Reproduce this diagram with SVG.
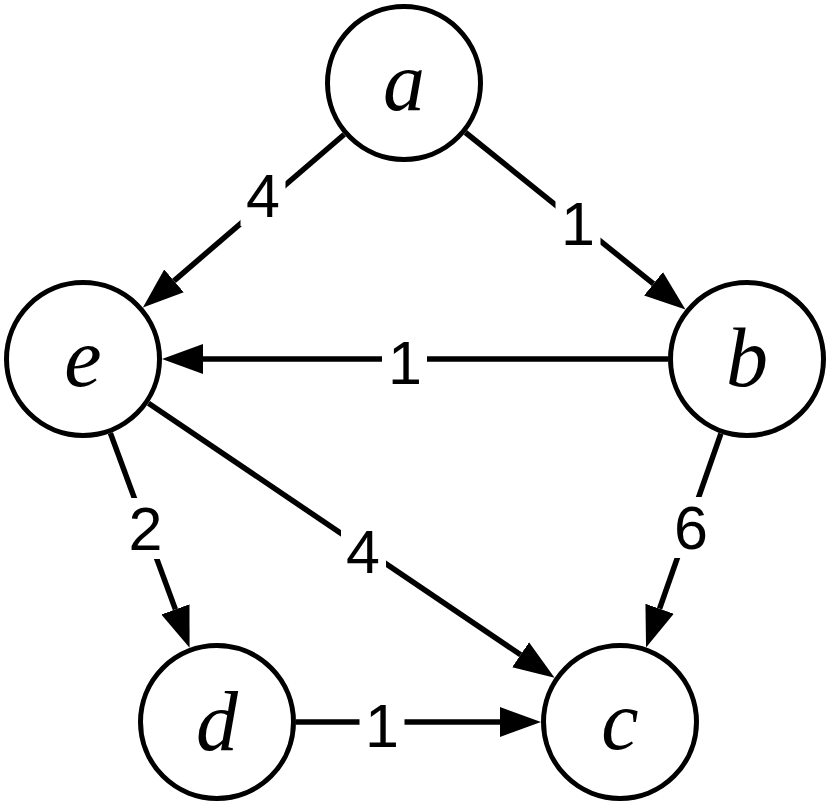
<svg xmlns="http://www.w3.org/2000/svg" width="830" height="805" viewBox="0 0 830 805">
<defs>
<style>
.node circle{fill:#fff;stroke:#000;stroke-width:5}
.node text{font-family:"Liberation Serif","Times New Roman",serif;font-style:italic;font-size:84px;text-anchor:middle;fill:#000}
.edge{stroke:#000;stroke-width:5.5;fill:none;marker-end:url(#arrow)}
.lbg{fill:#fff}
.lbl{font-family:"Liberation Sans",Arial,sans-serif;font-size:61px;text-anchor:middle;fill:#000}
</style>
<marker id="arrow" markerUnits="userSpaceOnUse" viewBox="0 -16 42 32" refX="0" refY="0" markerWidth="42" markerHeight="32" orient="auto">
<path d="M0,-15 L41,0 L0,15 z" fill="#000"/>
</marker>
</defs>
<rect width="830" height="805" fill="#fff"/>
<g id="connectors">
<line class="edge" x1="344.1" y1="134.5" x2="174.0" y2="280.8"/>
<line class="edge" x1="465.5" y1="132.5" x2="653.5" y2="283.8"/>
<line class="edge" x1="668" y1="359" x2="203" y2="359"/>
<line class="edge" x1="720.9" y1="433.6" x2="659.6" y2="608.7"/>
<line class="edge" x1="110.4" y1="433.1" x2="175.4" y2="609.4"/>
<line class="edge" x1="148.5" y1="403.2" x2="520.6" y2="654.8"/>
<line class="edge" x1="296" y1="722" x2="500" y2="722"/>
<g id="edge-labels">
<rect class="lbg" x="240.5" y="165" width="45" height="61"/>
<text class="lbl" x="263" y="217">4</text>
<rect class="lbg" x="555.5" y="193" width="45" height="61"/>
<text class="lbl" x="578" y="245">1</text>
<rect class="lbg" x="382" y="332" width="45" height="61"/>
<text class="lbl" x="405" y="384">1</text>
<rect class="lbg" x="359.5" y="695" width="45" height="61"/>
<text class="lbl" x="382" y="747">1</text>
<rect class="lbg" x="668.5" y="497" width="45" height="61"/>
<text class="lbl" x="691" y="549">6</text>
<rect class="lbg" x="123" y="498" width="45" height="61"/>
<text class="lbl" x="145.5" y="550">2</text>
<rect class="lbg" x="341" y="521" width="45" height="61"/>
<text class="lbl" x="363" y="573">4</text>
</g>
</g>
<g id="node-a" class="node"><circle cx="404" cy="83" r="76.5"/><text x="404" y="110">a</text></g>
<g id="node-b" class="node"><circle cx="747" cy="359" r="76.5"/><text x="747" y="386">b</text></g>
<g id="node-c" class="node"><circle cx="620" cy="722" r="76.5"/><text x="620" y="749">c</text></g>
<g id="node-d" class="node"><circle cx="217" cy="722" r="76.5"/><text x="217" y="750">d</text></g>
<g id="node-e" class="node"><circle cx="83" cy="359" r="76.5"/><text x="83" y="386">e</text></g>
</svg>
